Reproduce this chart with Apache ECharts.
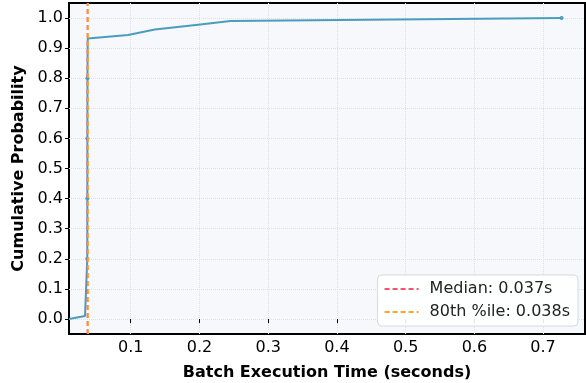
<!DOCTYPE html>
<html><head><meta charset="utf-8">
<script src="https://cdn.jsdelivr.net/npm/echarts@6/dist/echarts.min.js"></script>
<style>html,body{margin:0;padding:0;background:#fff}#c{width:586px;height:383px}</style>
</head><body><div id="c"></div>
<script>
const cdfTimes = [0.0102, 0.0335, 0.0368, 0.0369, 0.0370, 0.0371, 0.0375, 0.096, 0.135, 0.198, 0.245, 0.727];
const cdfProbs = [0.0, 0.01, 0.2, 0.4, 0.6, 0.8, 0.932, 0.944, 0.962, 0.978, 0.99, 1.0];
const markedIdx = [2, 3, 4, 5, 11];
const medianVal = 0.037;
const p80Val = 0.038;
const xTicks = [0.1, 0.2, 0.3, 0.4, 0.5, 0.6, 0.7];
const yTicks = [0.0, 0.1, 0.2, 0.3, 0.4, 0.5, 0.6, 0.7, 0.8, 0.9, 1.0];
const xRange = [0.0102, 0.761];
const yRange = [-0.05, 1.05];

const chart = echarts.init(document.getElementById('c'));
const font = 'DejaVu Sans';
const medName = 'Median: ' + medianVal.toFixed(3) + 's';
const p80Name = '80th %ile: ' + p80Val.toFixed(3) + 's';
const cdfData = cdfTimes.map((t, i) => ({value: [t, cdfProbs[i]], symbolSize: markedIdx.includes(i) ? 4 : 0}));
chart.setOption({
  animation: false,
  textStyle: {fontFamily: font},
  grid: {left: 69, top: 3, right: 1, bottom: 49, show: true, outerBoundsMode: 'none', containLabel: false,
         backgroundColor: '#f6f8fb', borderColor: '#000', borderWidth: 2},
  xAxis: {
    type: 'value', min: xRange[0], max: xRange[1],
    name: 'Batch Execution Time (seconds)', nameLocation: 'middle', nameGap: 31,
    nameTextStyle: {fontFamily: font, fontWeight: 'bold', fontSize: 16, color: '#000'},
    axisLine: {show: false},
    axisTick: {show: true, customValues: xTicks, length: 4, lineStyle: {color: '#000', width: 1}},
    axisLabel: {customValues: xTicks, fontFamily: font, fontSize: 16, color: '#000', margin: 6, formatter: v => v.toFixed(1)},
    splitLine: {show: true, lineStyle: {color: '#dde0e4', type: 'dotted', width: 1}}
  },
  yAxis: {
    type: 'value', min: yRange[0], max: yRange[1],
    name: 'Cumulative Probability', nameLocation: 'middle', nameGap: 42,
    nameTextStyle: {fontFamily: font, fontWeight: 'bold', fontSize: 16, color: '#000'},
    axisLine: {show: false},
    axisTick: {show: true, customValues: yTicks, length: 4, lineStyle: {color: '#000', width: 1}},
    axisLabel: {customValues: yTicks, fontFamily: font, fontSize: 16, color: '#000', margin: 6, formatter: v => v.toFixed(1)},
    splitLine: {show: true, lineStyle: {color: '#dde0e4', type: 'dotted', width: 1}}
  },
  legend: {
    data: [{name: medName, itemStyle: {opacity: 0}}, {name: p80Name, itemStyle: {opacity: 0}}],
    orient: 'vertical', right: 8, bottom: 57,
    backgroundColor: 'rgba(255,255,255,0.9)', borderColor: '#d8d8d8', borderWidth: 1, borderRadius: 4,
    padding: [6, 8, 6, 6], itemGap: 7, itemWidth: 34, itemHeight: 12,
    textStyle: {fontFamily: font, fontSize: 16, color: '#222', padding: [0, 0, 0, 6]}
  },
  series: [
    {type: 'line', name: 'CDF', data: cdfData, symbol: 'circle', showSymbol: true,
     lineStyle: {color: '#4b9cbd', width: 2}, itemStyle: {color: '#4b9cbd'}, z: 3},
    {type: 'line', name: medName, data: [[medianVal, yRange[0]], [medianVal, yRange[1]]],
     symbol: 'none', lineStyle: {color: '#f0566e', width: 1.6, type: [5, 3]}, itemStyle: {color: '#f0566e'}, z: 4},
    {type: 'line', name: p80Name, data: [[p80Val, yRange[0]], [p80Val, yRange[1]]],
     symbol: 'none', lineStyle: {color: '#ffa630', width: 1.6, type: [5, 3]}, itemStyle: {color: '#ffa630'}, z: 5}
  ]
});
</script></body></html>
